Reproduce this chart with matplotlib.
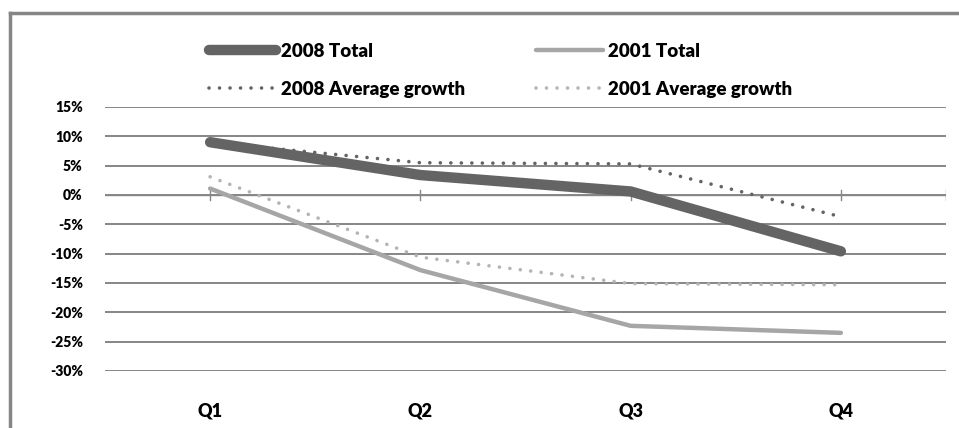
import matplotlib.pyplot as plt
from matplotlib.lines import Line2D
from matplotlib.ticker import FuncFormatter

quarters = ['Q1', 'Q2', 'Q3', 'Q4']
total_2008 = [0.090, 0.034, 0.006, -0.096]
total_2001 = [0.011, -0.128, -0.223, -0.235]
avg_2008 = [0.090, 0.055, 0.053, -0.037]
avg_2001 = [0.031, -0.106, -0.151, -0.153]
y_ticks = [0.15, 0.10, 0.05, 0.0, -0.05, -0.10, -0.15, -0.20, -0.25, -0.30]

plt.rcParams['font.family'] = ['Lato', 'DejaVu Sans']
plt.rcParams['font.weight'] = 'heavy'

W, H = 959, 428
fig = plt.figure(figsize=(W / 100, H / 100), dpi=100)
ax = fig.add_axes([105 / W, (H - 371) / H, (946 - 105) / W, (371 - 107) / H])

x = [1, 2, 3, 4]
dark = '#646464'
light = '#a6a6a6'
light_dot = '#b4b4b4'

ax.plot(x, avg_2001, color=light_dot, lw=2.6, linestyle=(0, (0.01, 2.9)),
        dash_capstyle='round', label='2001 Average growth', zorder=3)
ax.plot(x, avg_2008, color=dark, lw=2.6, linestyle=(0, (0.01, 2.9)),
        dash_capstyle='round', label='2008 Average growth', zorder=3)
ax.plot(x, total_2001, color=light, lw=3.2, solid_capstyle='round',
        solid_joinstyle='round', label='2001 Total', zorder=4)
ax.plot(x, total_2008, color=dark, lw=7.5, solid_capstyle='round',
        solid_joinstyle='round', label='2008 Total', zorder=5)

ax.set_xlim(0.5, 4.5)
ax.set_ylim(-0.30, 0.15)
ax.set_yticks(y_ticks)
ax.yaxis.set_major_formatter(FuncFormatter(lambda v, p: f'{v * 100:.0f}%'))
ax.set_xticks(x)
ax.set_xticklabels(quarters)
ax.tick_params(axis='y', length=0, pad=16, labelsize=10)
ax.tick_params(axis='x', length=0, pad=23, labelsize=13)
for s in ax.spines.values():
    s.set_visible(False)
ax.grid(axis='y', color='#868686', lw=1.4)
ax.set_axisbelow(True)

# category axis at 0% with tick marks
ax.axhline(0, color='#868686', lw=1.0, zorder=1)
for t in [1, 2, 3, 4, 4.5]:
    ax.plot([t, t], [-0.008, 0.008], color='#868686', lw=1.0, zorder=1)

# outer frame (left and top edges)
fig.add_artist(Line2D([10 / W, 10 / W], [0, (H - 13) / H], color='#868686', lw=2.5))
fig.add_artist(Line2D([10 / W, 1], [(H - 13) / H, (H - 13) / H], color='#868686', lw=2.5))

handles, labels = ax.get_legend_handles_labels()
order = ['2008 Total', '2008 Average growth', '2001 Total', '2001 Average growth']
hmap = dict(zip(labels, handles))
fig.legend([hmap[k] for k in order], order, ncol=2, frameon=False,
           loc='upper left', bbox_to_anchor=(192 / W, 1 - 26 / H),
           fontsize=13.5, handlelength=3.6, handletextpad=0.25,
           columnspacing=3.75, labelspacing=1.1)

fig.savefig('out.png', dpi=100)
